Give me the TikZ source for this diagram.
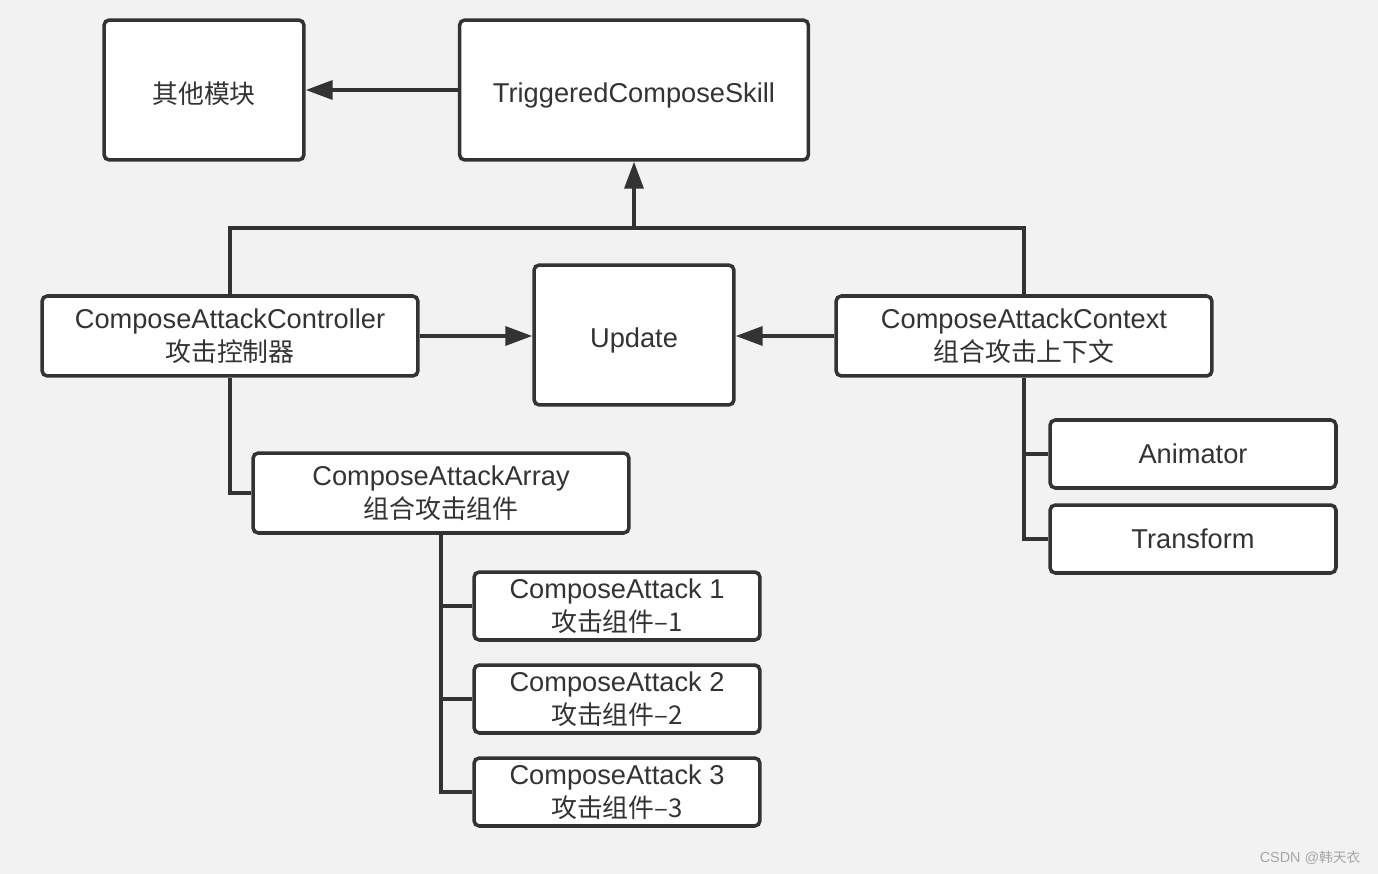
\documentclass[tikz,border=0pt]{standalone}
\usepackage{fontspec}
\setmainfont{Liberation Sans}
\newfontfamily\cjk[Scale=0.95]{Noto Sans CJK SC}
\usetikzlibrary{arrows.meta}

\definecolor{bgc}{HTML}{F2F2F2}
\definecolor{linec}{HTML}{333333}

\begin{document}
\begin{tikzpicture}[x=0.02cm,y=-0.02cm,line width=2pt,draw=linec]
  \tikzstyle{box}=[draw=linec,fill=white,rounded corners=3pt,align=center,
    text=linec,inner sep=0pt,font=\fontsize{15.5}{18.6}\selectfont]
  \tikzstyle{big}=[box,minimum height=2.8cm,
    execute at end node={\rule{0pt}{17pt}}]
  \tikzstyle{wide}=[box,minimum width=7.52cm,minimum height=1.6cm]
  \tikzstyle{leaf}=[box,minimum width=5.72cm,minimum height=1.36cm]
  \tikzstyle{link}=[-{Triangle[length=0.54cm,width=0.38cm]}]

  \fill[bgc] (0,0) rectangle (1378,874);
  \useasboundingbox (0,0) rectangle (1378,874);

  \node[big,minimum width=4cm] (other) at (204,90) {\cjk 其他模块};
  \node[big,minimum width=6.98cm] (trig) at (634,90) {TriggeredComposeSkill};
  \node[big,minimum width=4cm] (upd) at (634,335) {Update};

  \node[wide] (ctrl) at (230,336) {ComposeAttackController\\{\cjk 攻击控制器}};
  \node[wide] (ctx) at (1024,336) {ComposeAttackContext\\{\cjk 组合攻击上下文}};
  \node[wide] (arr) at (441,493) {ComposeAttackArray\\{\cjk 组合攻击组件}};

  \foreach \name/\y/\text in {anim/454/Animator, trans/539/Transform}
    \node[leaf] (\name) at (1193,\y) {\text};

  \foreach \n/\y in {1/606, 2/699, 3/792}
    \node[leaf] (ca-\n) at (617,\y) {ComposeAttack \n\\{\cjk 攻击组件–\n}};

  \coordinate (join) at (634,228);

  \draw[link] (trig.west) -- (other.east);
  \draw (ctrl.north) |- (join) -| (ctx.north);
  \draw[link] (join) -- (trig.south);
  \draw[link] (ctrl.east) -- (upd.west |- ctrl.east);
  \draw[link] (ctx.west) -- (upd.east |- ctx.west);

  \draw (ctrl.south) |- (arr.west);
  \draw (arr.south) |- (ca-3.west);
  \foreach \n in {1,2}
    { \draw (arr.south |- ca-\n.west) -- (ca-\n.west); }

  \draw (ctx.south) |- (trans.west);
  \draw (ctx.south |- anim.west) -- (anim.west);

  \node[text=gray!70,font=\fontsize{8.2}{10}\selectfont,anchor=east,inner sep=0pt]
    (mark) at (1362,858) {CSDN @{\cjk 韩天衣}};
\end{tikzpicture}
\end{document}
